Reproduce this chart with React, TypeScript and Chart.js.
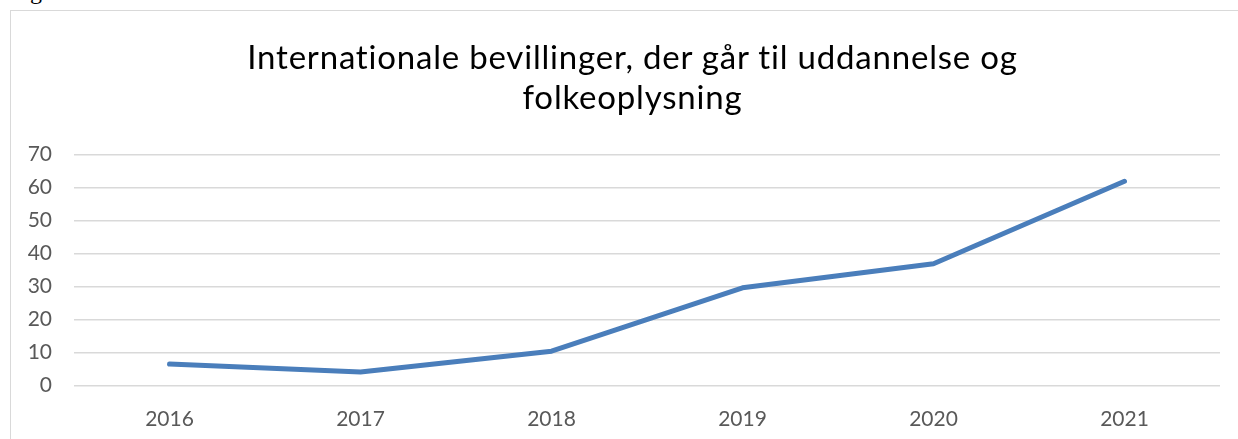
import React, { useEffect, useRef } from "react";
import { Chart, registerables } from "chart.js";

Chart.register(...registerables);

const titleLines = ["Internationale bevillinger, der går til uddannelse og", "folkeoplysning"];
const years = ["2016", "2017", "2018", "2019", "2020", "2021"];
const values = [6.5, 4.1, 10.4, 29.6, 36.9, 61.9];
const yTicks = [0, 10, 20, 30, 40, 50, 60, 70];

export default function App() {
  const ref = useRef<HTMLCanvasElement | null>(null);

  useEffect(() => {
    if (!ref.current) return;
    const chart = new Chart(ref.current, {
      type: "line",
      data: {
        labels: years,
        datasets: [
          {
            data: values,
            borderColor: "#4a7ebb",
            backgroundColor: "#4a7ebb",
            borderWidth: 5,
            pointRadius: 0,
            pointHoverRadius: 0,
            tension: 0,
            borderCapStyle: "round",
            borderJoinStyle: "round",
          },
        ],
      },
      options: {
        responsive: false,
        animation: false,
        events: [],
        layout: { padding: { left: 0, right: 34, top: 143.5, bottom: 0 } },
        plugins: {
          legend: { display: false },
          tooltip: { enabled: false },
          title: { display: false },
        },
        scales: {
          x: {
            type: "category",
            offset: true,
            grid: { display: false, drawTicks: false },
            border: { display: false },
            ticks: {
              color: "#595959",
              font: { family: "Lato", size: 21 },
              padding: 21,
              maxRotation: 0,
            },
            afterFit: (s: any) => {
              s.height = 53.5;
            },
          },
          y: {
            min: 0,
            max: 70,
            afterBuildTicks: (s: any) => {
              s.ticks = yTicks.map((v) => ({ value: v }));
            },
            grid: { color: "#d9d9d9", lineWidth: 1.5, drawTicks: false },
            border: { display: false },
            ticks: {
              color: "#595959",
              font: { family: "Lato", size: 21 },
              padding: 22,
            },
            afterFit: (s: any) => {
              s.width = 63;
            },
          },
        },
      },
    });
    return () => chart.destroy();
  }, []);

  return (
    <div
      style={{
        position: "fixed",
        left: 0,
        top: 0,
        width: 1238,
        height: 439,
        overflow: "hidden",
        background: "#ffffff",
      }}
    >
      <span
        style={{
          position: "absolute",
          left: 30,
          top: -21,
          fontFamily: "'Liberation Serif', serif",
          fontSize: 24,
          lineHeight: "24px",
          color: "#000",
        }}
      >
        g
      </span>
      <div
        style={{
          position: "absolute",
          left: 10,
          top: 10,
          width: 1250,
          height: 440,
          border: "1px solid #d9d9d9",
          boxSizing: "border-box",
        }}
      />
      <canvas
        ref={ref}
        width={1243}
        height={428}
        style={{ position: "absolute", left: 11, top: 11, width: 1243, height: 428 }}
      />
      <div
        style={{
          position: "absolute",
          left: 11,
          top: 35.5,
          width: 1243,
          textAlign: "center",
          fontFamily: "Lato, sans-serif",
          fontSize: 33,
          lineHeight: "40px",
          letterSpacing: "0.8px",
          fontVariantLigatures: "none",
          color: "#000",
        }}
      >
        {titleLines.map((t) => (
          <div key={t}>{t}</div>
        ))}
      </div>
    </div>
  );
}
